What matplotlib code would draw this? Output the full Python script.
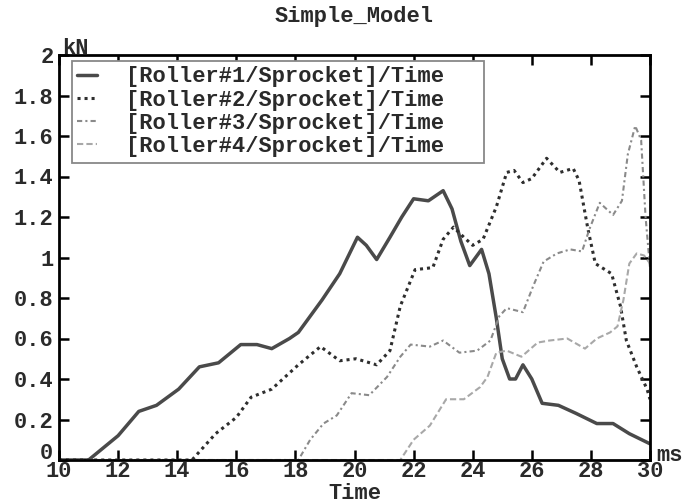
import matplotlib
matplotlib.use("Agg")
import matplotlib.pyplot as plt
import matplotlib.transforms as mtransforms

# ---- data ----
r1_t = [10, 11.0, 11.5, 12.0, 12.7, 13.3, 14.05, 14.75, 15.4, 16.15, 16.7, 17.2, 17.8, 18.1, 18.9, 19.5,
        20.1, 20.4, 20.75, 21.2, 21.6, 22.0, 22.5, 23.0, 23.3, 23.6, 23.9, 24.3, 24.55, 24.8, 25.0, 25.25,
        25.45, 25.7, 26.0, 26.35, 26.9, 27.5, 28.2, 28.75, 29.3, 30]
r1_y = [0, 0, 0.06, 0.12, 0.24, 0.27, 0.35, 0.46, 0.48, 0.57, 0.57, 0.55, 0.60, 0.63, 0.79, 0.92,
        1.10, 1.06, 0.99, 1.10, 1.20, 1.29, 1.28, 1.33, 1.24, 1.08, 0.96, 1.04, 0.92, 0.70, 0.50, 0.40,
        0.40, 0.47, 0.40, 0.28, 0.27, 0.23, 0.18, 0.18, 0.13, 0.08]

r2_t = [10, 14.5, 15.3, 16.0, 16.5, 17.2, 17.8, 18.1, 18.85, 19.5, 20.05, 20.75, 21.2, 21.55, 22.05,
        22.65, 23.0, 23.35, 23.7, 24.0, 24.35, 24.8, 25.15, 25.4, 25.7, 26.0, 26.5, 26.95, 27.4, 27.6,
        27.9, 28.15, 28.7, 29.0, 29.2, 29.55, 29.9, 30]
r2_y = [0, 0, 0.13, 0.21, 0.31, 0.35, 0.43, 0.47, 0.56, 0.49, 0.50, 0.47, 0.54, 0.76, 0.94,
        0.95, 1.09, 1.15, 1.10, 1.06, 1.09, 1.25, 1.42, 1.43, 1.37, 1.39, 1.49, 1.42, 1.44, 1.38,
        1.14, 0.97, 0.92, 0.76, 0.59, 0.46, 0.35, 0.30]

r3_t = [10, 18.1, 18.5, 18.95, 19.4, 19.9, 20.5, 21.1, 21.55, 21.9, 22.55, 23.0, 23.55, 24.15, 24.6,
        24.9, 25.15, 25.7, 26.05, 26.4, 26.85, 27.3, 27.7, 27.95, 28.3, 28.75, 29.05, 29.25, 29.5, 29.7,
        29.85, 30]
r3_y = [0, 0, 0.10, 0.18, 0.22, 0.33, 0.32, 0.41, 0.51, 0.57, 0.56, 0.59, 0.53, 0.54, 0.59,
        0.71, 0.75, 0.73, 0.86, 0.98, 1.02, 1.04, 1.03, 1.14, 1.27, 1.21, 1.28, 1.51, 1.65, 1.58,
        1.20, 0.95]

r4_t = [10, 21.55, 22.0, 22.55, 23.1, 23.7, 24.25, 24.5, 24.8, 25.15, 25.65, 26.2, 26.6, 27.2, 27.8,
        28.2, 28.65, 28.9, 29.1, 29.3, 29.55, 29.8, 30]
r4_y = [0, 0, 0.10, 0.17, 0.30, 0.30, 0.36, 0.41, 0.53, 0.54, 0.51, 0.58, 0.59, 0.60, 0.55,
        0.60, 0.63, 0.66, 0.79, 0.97, 1.02, 1.01, 0.97]

labels = ["[Roller#1/Sprocket]/Time", "[Roller#2/Sprocket]/Time",
          "[Roller#3/Sprocket]/Time", "[Roller#4/Sprocket]/Time"]
x_ticks = [10, 12, 14, 16, 18, 20, 22, 24, 26, 28, 30]
y_ticks = [0, 0.2, 0.4, 0.6, 0.8, 1, 1.2, 1.4, 1.6, 1.8, 2]
y_ticklabels = ["0", "0.2", "0.4", "0.6", "0.8", "1", "1.2", "1.4", "1.6", "1.8", "2"]

FONT = "Liberation Mono"
FS = 15.8
TXT = "#2a2a2a"
plt.rcParams["font.family"] = [FONT, "DejaVu Sans"]
plt.rcParams["font.weight"] = "bold"

fig = plt.figure(figsize=(6.82, 5.04), dpi=100)
ax = fig.add_axes([59 / 682, 44 / 504, 591 / 682, 405 / 504])

ax.plot(r1_t, r1_y, color="#4a4a4a", lw=2.5, ls="-", label=labels[0],
        solid_capstyle="round", solid_joinstyle="round")
ax.plot(r2_t, r2_y, color="#2e2e2e", lw=2.2, ls=(0, (1, 1.3)), label=labels[1])
ax.plot(r3_t, r3_y, color="#8a8a8a", lw=1.5, ls=(0, (2.5, 1.5, 1, 1.5)), label=labels[2])
ax.plot(r4_t, r4_y, color="#a8a8a8", lw=1.5, ls=(0, (3, 1.5)), label=labels[3])

ax.set_xlim(10, 30)
ax.set_ylim(0, 2)
ax.set_xticks(x_ticks)
ax.set_xticklabels([str(v) for v in x_ticks])
ax.set_yticks(y_ticks)
ax.set_yticklabels(y_ticklabels)
ax.tick_params(direction="in", length=7, width=1.8, top=True, right=True,
               labelsize=FS, colors="black", labelcolor=TXT, pad=4)
ax.tick_params(axis="x", pad=1)
for s in ax.spines.values():
    s.set_linewidth(2.0)
    s.set_color("black")

# lift the "0" label a bit like the reference
ylabs = ax.get_yticklabels()
ylabs[0].set_transform(ylabs[0].get_transform() +
                       mtransforms.ScaledTranslation(0, 9 / 100, fig.dpi_scale_trans))

ax.set_title("Simple_Model", fontsize=FS, color=TXT, pad=24, fontweight="bold")
fig.text((59 + 650) / 2 / 682, 0.0, "Time", ha="center", va="bottom",
         fontsize=FS, color=TXT, fontweight="bold")
ax.text(0.005, 1.0, "kN", transform=ax.transAxes + mtransforms.ScaledTranslation(0, -4 / 100, fig.dpi_scale_trans),
        ha="left", va="bottom", fontsize=FS, color=TXT, fontweight="bold")
ax.text(1.01, 0.01, "ms", transform=ax.transAxes, ha="left", va="center",
        fontsize=FS, color=TXT, fontweight="bold")

leg = ax.legend(loc="upper left",
                bbox_to_anchor=((72 - 59) / 591, (460 - 65) / 405, (484 - 72) / 591, 0.01),
                mode="expand", borderaxespad=0, fontsize=FS, handlelength=0.9,
                handletextpad=1.3, labelspacing=0.1, borderpad=0.25, fancybox=False,
                framealpha=1, edgecolor="#888888")
leg.get_frame().set_linewidth(1.3)
for t in leg.get_texts():
    t.set_color(TXT)

fig.savefig("out.png", dpi=100)
